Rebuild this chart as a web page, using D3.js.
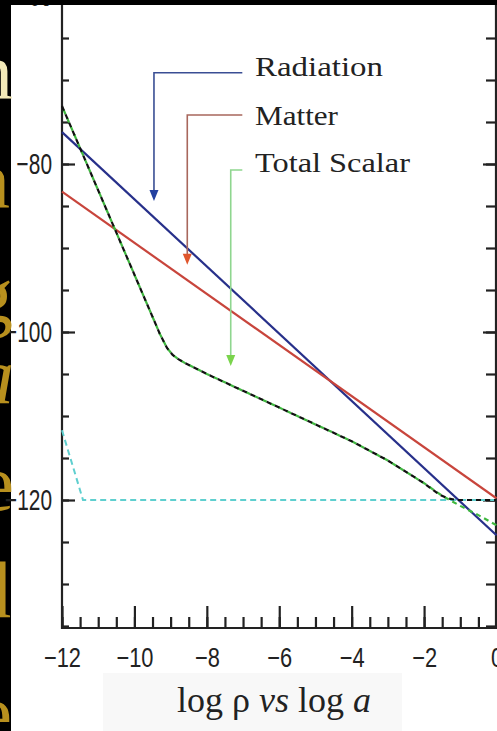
<!DOCTYPE html>
<html><head><meta charset="utf-8">
<script src="https://cdn.jsdelivr.net/npm/d3@7"></script>
<style>html,body{margin:0;padding:0;background:#000;}svg{display:block;}</style>
</head><body>
<svg id="c" width="497" height="731"></svg>
<script>
// ---------- data ----------
const radiationX = [-12, 0];
const radiationV = [-76.2, -124.2];
const matterX = [-12, 0];
const matterV = [-83.3, -119.8];
const scalarX = [-12, -9.3, -9.1, -8.95, -8.8, -8.6, -8, -7, -6, -5, -4, -3, -2, -1.5, -1, -0.5, 0];
const scalarV = [-73.1, -100.2, -101.9, -102.7, -103.2, -103.7, -105.0, -107.0, -109.0, -111.0, -113.0, -115.3, -118.0, -119.5, -120.7, -121.8, -123.0];
const totalX = [-12, -9.3, -9.1, -8.95, -8.8, -8.6, -8, -7, -6, -5, -4, -3, -2, -1.6, -1.35, -1.1, 0];
const totalV = [-73.1, -100.2, -101.9, -102.7, -103.2, -103.7, -105.0, -107.0, -109.0, -111.0, -113.0, -115.3, -118.0, -119.3, -119.8, -120, -120];
const vacuumX = [-12, -11.42, 0];
const vacuumV = [-111.7, -120, -120];
const xMajorTicks = [-12, -10, -8, -6, -4, -2, 0];
const xMinorTicks = d3.range(-12, 0.01, 0.5);
const yMajorTicks = [-60, -80, -100, -120];
const yMinorTicks = d3.range(-135, -59, 5);
const legendNames = ["Radiation", "Matter", "Total Scalar"];
const legendLabelV = [-69.52, -75.36, -80.95];
const legendElbowV = [-69.13, -74.17, -80.71];
const legendDropU = [-9.46, -8.54, -7.34];
const legendTipV = [-84.4, -92.0, -104.05];
const legendLen = [128, 83, 155];
const sideLetters = ["n", "n", "g", "a", "e", "d", "e"];

// ---------- scales ----------
const x = d3.scaleLinear().domain([-12, 0]).range([62, 496.5]);
const y = d3.scaleLinear().domain([-120, -80]).range([500, 164]);
const axisBottomY = 628, axisLeftX = 62, axisRightX = 496;

const svg = d3.select("#c");
svg.append("rect").attr("width", 497).attr("height", 731).attr("fill", "#000");
svg.append("rect").attr("x", 11).attr("y", 5).attr("width", 486).attr("height", 726).attr("fill", "#fff");
svg.append("rect").attr("x", 103).attr("y", 673).attr("width", 299).attr("height", 58).attr("fill", "#f8f8f8");

const fontAxis = "'Liberation Sans', Arial, sans-serif";
const fontSerif = "'Liberation Serif', 'Times New Roman', serif";

// ---------- axes ----------
function styleAxis(g) {
  g.select(".domain").remove();
  g.selectAll(".tick line").attr("stroke", "#222").attr("stroke-width", 2.2);
}
const fmt = d => (d < 0 ? "\u2212" + Math.abs(d) : String(d));

svg.append("g").attr("transform", `translate(${axisLeftX},0)`)
  .call(d3.axisLeft(y).tickValues(yMinorTicks).tickSize(-7).tickFormat(""))
  .call(styleAxis);
const gl = svg.append("g").attr("transform", `translate(${axisLeftX},0)`)
  .call(d3.axisLeft(y).tickValues(yMajorTicks).tickSize(-13).tickPadding(10).tickFormat(fmt))
  .call(styleAxis);
const ySx = 0.72;
gl.selectAll(".tick text")
  .attr("font-family", fontAxis).attr("font-size", 29).attr("fill", "#222")
  .attr("x", -10 / ySx).attr("transform", `scale(${ySx},1)`);

svg.append("g").attr("transform", `translate(${axisRightX},0)`)
  .call(d3.axisRight(y).tickValues(yMinorTicks).tickSize(-10).tickFormat(""))
  .call(styleAxis);
svg.append("g").attr("transform", `translate(${axisRightX},0)`)
  .call(d3.axisRight(y).tickValues(yMajorTicks).tickSize(-13).tickFormat(""))
  .call(styleAxis);

svg.append("g").attr("transform", `translate(0,${axisBottomY})`)
  .call(d3.axisBottom(x).tickValues(xMinorTicks).tickSize(-11).tickFormat(""))
  .call(styleAxis);
const gb = svg.append("g").attr("transform", `translate(0,${axisBottomY})`)
  .call(d3.axisBottom(x).tickValues(xMajorTicks).tickSize(-22).tickPadding(19).tickFormat(fmt))
  .call(styleAxis);
gb.selectAll(".tick text")
  .attr("font-family", fontAxis).attr("font-size", 28).attr("fill", "#222")
  .attr("transform", "scale(0.78,1)");

svg.append("line").attr("x1", axisLeftX).attr("x2", axisLeftX).attr("y1", 0).attr("y2", axisBottomY + 1)
  .attr("stroke", "#222").attr("stroke-width", 2.2);
svg.append("line").attr("x1", axisRightX).attr("x2", axisRightX).attr("y1", 0).attr("y2", axisBottomY + 1)
  .attr("stroke", "#222").attr("stroke-width", 2.2);
svg.append("line").attr("x1", axisLeftX - 1).attr("x2", axisRightX + 1).attr("y1", axisBottomY).attr("y2", axisBottomY)
  .attr("stroke", "#222").attr("stroke-width", 2.2);

// ---------- series ----------
const line = d3.line().x(d => x(d[0])).y(d => y(d[1]));
const zipXY = (a, b) => a.map((v, i) => [v, b[i]]);

svg.append("path").datum(zipXY(vacuumX, vacuumV)).attr("d", line)
  .attr("fill", "none").attr("stroke", "#5fcfcf").attr("stroke-width", 2).attr("stroke-dasharray", "6,4");
svg.append("path").datum(zipXY(radiationX, radiationV)).attr("d", line)
  .attr("fill", "none").attr("stroke", "#27308a").attr("stroke-width", 2.2);
svg.append("path").datum(zipXY(matterX, matterV)).attr("d", line)
  .attr("fill", "none").attr("stroke", "#c8453c").attr("stroke-width", 2.2);
svg.append("path").datum(zipXY(scalarX, scalarV)).attr("d", line)
  .attr("fill", "none").attr("stroke", "#3fb83f").attr("stroke-width", 2.2)
  .attr("stroke-dasharray", "5,4").attr("stroke-dashoffset", 5);
svg.append("path").datum(zipXY(totalX, totalV)).attr("d", line)
  .attr("fill", "none").attr("stroke", "#111").attr("stroke-width", 2.2)
  .attr("stroke-dasharray", "5,4");

// ---------- legend annotations ----------
const legLineColors = ["#3a4e94", "#a8675c", "#8fd68f"];
const legHeadColors = ["#2340a0", "#e0562c", "#7ad44c"];
const legendStartU = -7.02;
legendNames.forEach((name, i) => {
  const xs = x(legendStartU), xd = x(legendDropU[i]);
  const ye = y(legendElbowV[i]), yt = y(legendTipV[i]);
  svg.append("path").attr("d", `M${xs},${ye}H${xd}V${yt - 10}`)
    .attr("fill", "none").attr("stroke", legLineColors[i]).attr("stroke-width", 1.6);
  svg.append("path").attr("d", `M${xd - 4.5},${yt - 11}L${xd + 4.5},${yt - 11}L${xd},${yt}Z`)
    .attr("fill", legHeadColors[i]);
  svg.append("text").attr("x", x(-6.67)).attr("y", y(legendLabelV[i]))
    .attr("font-family", fontSerif).attr("font-size", 27).attr("fill", "#222")
    .attr("textLength", legendLen[i]).attr("lengthAdjust", "spacingAndGlyphs")
    .text(name);
});

// ---------- x title ----------
const title = svg.append("text").attr("x", 177).attr("y", 712)
  .attr("font-family", fontSerif).attr("font-size", 36).attr("fill", "#222");
title.append("tspan").text("log \u03c1 ");
title.append("tspan").attr("font-style", "italic").text("vs");
title.append("tspan").text(" log ");
title.append("tspan").attr("font-style", "italic").text("a");

// ---------- side slide text (cropped) ----------
const sidePos = [[13, 98], [10, 207], [13, 322], [14, 403], [14, 510], [11, 617], [12, 740]];
sideLetters.forEach((ch, i) => {
  svg.append("text").attr("x", sidePos[i][0]).attr("y", sidePos[i][1])
    .attr("text-anchor", "end").attr("font-family", fontSerif).attr("font-size", 80)
    .attr("font-style", ch === "a" ? "italic" : "normal")
    .attr("fill", i === 0 ? "#f3e9b8" : "#b8901e").text(ch);
});

svg.append("rect").attr("x", 0).attr("y", 0).attr("width", 497).attr("height", 5).attr("fill", "#000");
</script>
</body></html>
